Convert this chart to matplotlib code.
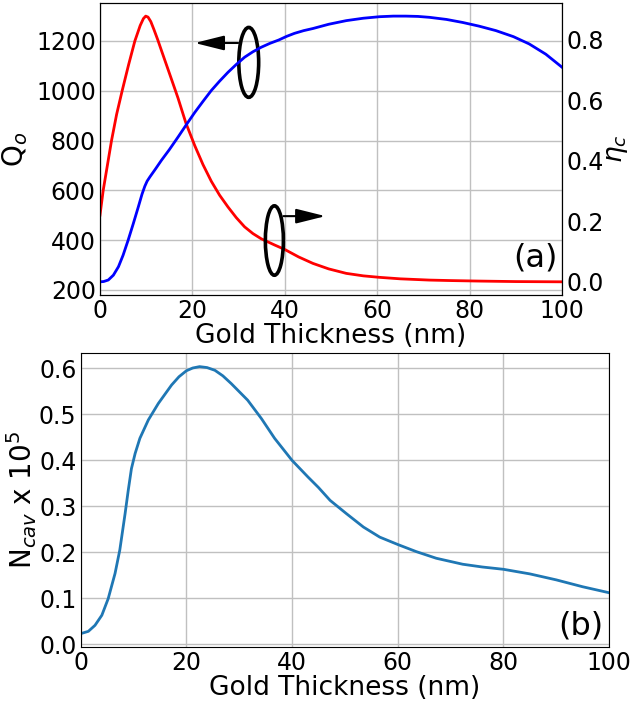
# Gold thickness sweep: Q_o / eta_c (a) and N_cav (b)
import matplotlib
matplotlib.use('Agg')
import matplotlib.pyplot as plt
from matplotlib.patches import Ellipse

plt.rcParams['font.family'] = 'DejaVu Sans'
plt.rcParams['mathtext.fontset'] = 'dejavusans'

# quality factor Q_o vs gold thickness (nm)
t_q = [0, 0.7, 1.6, 2.5, 3.6, 4.8, 6.2, 7.55, 8.7, 9.4, 9.9, 10.4, 11.0, 11.7, 12.5, 13.3,
       15.5, 16.9, 18.6, 20.5, 22.3, 24.1, 25.9, 27.7, 29.5, 31.3, 33.1, 34.9, 37.8, 40,
       43, 46.1, 49.5, 53.3, 57, 60.5, 65, 71.3, 76, 82.1, 90, 100]
q_o = [500, 600, 700, 800, 905, 1000, 1105, 1200, 1262, 1290, 1300, 1296, 1278, 1245, 1205, 1162,
       1045, 970, 870, 780, 703, 636, 580, 533, 490, 453, 426, 405, 380, 362,
       332, 306, 284, 266, 256, 250, 244, 239, 237, 235, 233, 232]

# coupling efficiency eta_c
t_eta = [0, 0.8, 1.8, 2.9, 4.0, 5.0, 6.1, 7.2, 8.3, 9.1, 9.7, 10.2, 10.8, 12.0, 13.3, 15.0,
         16.9, 18.7, 20.5, 22.3, 24.1, 25.9, 27.7, 29.5, 31.3, 33.1, 34.9, 36.8, 38.7, 40.4,
         42.1, 44.1, 46.1, 49.5, 53.3, 57, 60.5, 63.5, 66.2, 68.8, 71.3, 75, 78.5, 82, 85.7,
         89.5, 92.9, 96.5, 100]
eta_c = [0.0, 0.001, 0.006, 0.022, 0.05, 0.088, 0.138, 0.192, 0.248, 0.29, 0.316, 0.333, 0.347,
         0.373, 0.402, 0.437, 0.479, 0.52, 0.56, 0.597, 0.633, 0.664, 0.693, 0.719, 0.743,
         0.761, 0.776, 0.789, 0.80, 0.812, 0.822, 0.831, 0.838, 0.852, 0.864, 0.872, 0.877,
         0.879, 0.879, 0.878, 0.875, 0.868, 0.858, 0.846, 0.831, 0.811, 0.787, 0.753, 0.71]

# photon number in cavity (x 1e5)
t_n = [0, 1.45, 2.7, 4.0, 5.2, 6.5, 7.4, 8.4, 9.0, 9.6, 10.3, 11.2, 12.8, 14.7, 17.2, 18.6,
       20.0, 21.2, 22.5, 23.9, 25.4, 26.9, 28.5, 31.6, 34.2, 36.7, 40, 43, 45, 47.2, 50.3,
       53.5, 56.6, 60, 63.5, 67.3, 72.3, 76, 80, 85, 90, 95, 100]
n_cav = [0.023, 0.028, 0.041, 0.063, 0.099, 0.154, 0.205, 0.284, 0.335, 0.382, 0.415, 0.448,
         0.488, 0.524, 0.564, 0.582, 0.595, 0.601, 0.604, 0.602, 0.596, 0.584, 0.567, 0.531,
         0.491, 0.448, 0.40, 0.364, 0.341, 0.313, 0.284, 0.255, 0.233, 0.217, 0.2015, 0.187,
         0.174, 0.168, 0.163, 0.153, 0.140, 0.125, 0.112]

tick_x = [0, 20, 40, 60, 80, 100]

fig = plt.figure(figsize=(6.32, 7.06), dpi=100)

ax1 = fig.add_axes([0.1582, 0.582, 0.731, 0.414])
ax1.plot(t_q, q_o, color='red', lw=2)
ax1.set_xlim(0, 100)
ax1.set_xticks(tick_x)
ax1.set_yticks([200, 400, 600, 800, 1000, 1200])
ax1.grid(True, color='#c0c0c0', lw=1)
ax1.tick_params(length=0, labelsize=17, pad=3)
ax1.set_ylabel('Q$_o$', fontsize=20, labelpad=4)
ax1.set_xlabel('Gold Thickness (nm)', fontsize=19, labelpad=0)

ax2 = ax1.twinx()
ax2.plot(t_eta, eta_c, color='blue', lw=2)
ax2.set_yticks([0.0, 0.2, 0.4, 0.6, 0.8])
ax2.set_yticklabels(['0.0', '0.2', '0.4', '0.6', '0.8'])
ax2.tick_params(length=0, labelsize=17, pad=3)
ax2.set_ylabel(r'$\eta_c$', fontsize=19, labelpad=0)

# ellipses around each curve with arrows pointing to its axis
arrow = dict(arrowstyle='-|>,head_length=1.8,head_width=0.45', color='black', lw=1.5,
             shrinkA=0, shrinkB=0)
ax1.add_patch(Ellipse((32.2, 1114), 4.3, 281, fill=False, ec='black', lw=2.6, zorder=5))
ax1.annotate('', xy=(20.5, 1192), xytext=(29.9, 1192), arrowprops=arrow)
ax1.add_patch(Ellipse((37.75, 398), 3.9, 279, fill=False, ec='black', lw=2.6, zorder=5))
ax1.annotate('', xy=(48.8, 496), xytext=(39.7, 496), arrowprops=arrow)
ax1.text(0.99, 0.075, '(a)', transform=ax1.transAxes, fontsize=23, ha='right', va='bottom')

ax3 = fig.add_axes([0.1277, 0.0836, 0.836, 0.416])
ax3.plot(t_n, n_cav, color='#1f77b4', lw=2)
ax3.set_xlim(0, 100)
ax3.set_xticks(tick_x)
ax3.set_yticks([0.0, 0.1, 0.2, 0.3, 0.4, 0.5, 0.6])
ax3.grid(True, color='#c0c0c0', lw=1)
ax3.tick_params(length=0, labelsize=17, pad=3)
ax3.set_ylabel(r'N$_{cav}$ x 10$^5$', fontsize=20, labelpad=0)
ax3.set_xlabel('Gold Thickness (nm)', fontsize=19, labelpad=0)
ax3.text(0.99, 0.02, '(b)', transform=ax3.transAxes, fontsize=23, ha='right', va='bottom')

fig.savefig('out.png', dpi=100)
